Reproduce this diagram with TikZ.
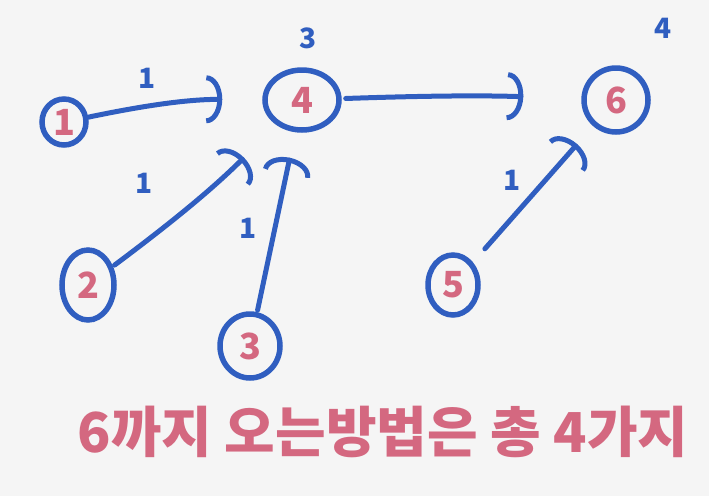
\documentclass[tikz,border=0pt]{standalone}
\usepackage{fontspec}
\setmainfont{Noto Sans CJK KR}
\usetikzlibrary{arrows.meta,shapes.geometric}
\definecolor{inkblue}{RGB}{48,94,192}
\definecolor{inkpink}{RGB}{212,104,128}
\definecolor{paper}{RGB}{245,245,245}
\tikzset{
  vert/.style={draw=inkblue, line width=5.5pt, ellipse, inner sep=0pt, text=inkpink, font=\fontsize{36}{36}\selectfont\bfseries},
  edge/.style={draw=inkblue, line width=5pt, line cap=round, -{Arc Barb[length=16pt, width=48pt, line width=5pt]}},
  wlab/.style={text=inkblue, font=\fontsize{28}{28}\selectfont\bfseries}
}
\begin{document}
\begin{tikzpicture}[x=1pt,y=-1pt]
\fill[paper] (0,0) rectangle (709,496);
\useasboundingbox (0,0) rectangle (709,496);
% vertices
\node[vert, minimum width=44pt, minimum height=46pt] (n1) at (64,122) {1};
\node[vert, minimum width=52pt, minimum height=70pt] (n2) at (88,285) {2};
\node[vert, minimum width=60pt, minimum height=64pt] (n3) at (250,346) {3};
\node[vert, minimum width=74pt, minimum height=60pt] (n4) at (302,100) {4};
\node[vert, minimum width=50pt, minimum height=60pt] (n5) at (453,285) {5};
\node[vert, minimum width=64pt, minimum height=64pt] (n6) at (616,100) {6};
% edges
\draw[edge, shorten >=40pt] (n1) to[bend left=6] (n4);
\draw[edge, shorten >=58pt, shorten <=4pt] (n4) to[bend left=2] (n6);
\draw[edge, shorten >=46pt, shorten <=2pt] (n2) to[bend right=4] (n4);
\draw[edge, shorten >=26pt, shorten <=2pt] (n3) -- (n4);
\draw[edge, shorten >=24pt, shorten <=18pt] (n5) -- (n6);
% weights
\node[wlab] (w1) at (147,78) {1};
\node[wlab] (w2) at (144,183) {1};
\node[wlab] (w3) at (248,228) {1};
\node[wlab] (w4) at (512,180) {1};
\node[wlab] (w5) at (308,38) {3};
\node[wlab] (w6) at (663,28) {4};
% caption
\node[text=inkpink, font=\fontsize{55}{55}\selectfont\bfseries, anchor=center] (cap) at (383,432) {6까지 오는방법은 총 4가지};
\end{tikzpicture}
\end{document}
